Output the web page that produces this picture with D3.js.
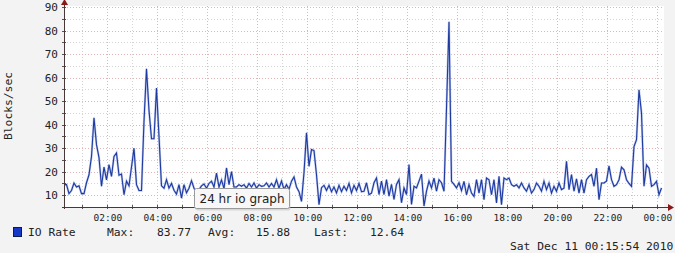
<!DOCTYPE html>
<html>
<head>
<meta charset="utf-8">
<script src="https://cdn.jsdelivr.net/npm/d3@7"></script>
<style>
  body { margin: 0; background: #f3f3f3; }
  svg { display: block; }
  text { font-family: "DejaVu Sans Mono", monospace; fill: #222; }
</style>
</head>
<body>
<svg id="canvas" width="675" height="253"></svg>
<script>
// data (6 minute steps, 24 hours)
const startTime = new Date(2010, 11, 10, 0, 15, 54);
const stepMinutes = 6;
const ioRate = [
  14.5, 14.5, 10.7, 12, 15.2, 13.5, 14, 10.7, 10.7, 15.3,
  18.7, 26.5, 42.9, 31.5, 26, 13.8, 22, 16.5, 23, 18,
  26.5, 28, 18.5, 19, 10.2, 16, 14, 22, 30, 14.5,
  12, 12, 41.4, 63.7, 46, 34, 34, 55.6, 35, 14,
  13, 16.6, 13, 15, 12.1, 10.5, 14.5, 8.8, 14.5, 11,
  13, 16.2, 13, 11, 12.4, 14, 14.8, 13, 15, 16,
  13.5, 19.4, 13.5, 16.5, 12.8, 21.6, 14.5, 20, 13.5, 13.5,
  14.5, 13.8, 14.5, 13, 15, 13.5, 15.2, 13, 14.5, 13.8,
  14, 15.2, 13.5, 15, 13.5, 16.6, 13, 16, 12.5, 14.5,
  12.5, 16, 17.8, 13.5, 11.5, 7.4, 19.6, 36.5, 22.3, 29.4,
  29, 18.7, 6, 13.2, 14.2, 12, 14.2, 11.5, 13.5, 11,
  14.2, 11.5, 13.8, 12, 15, 11, 14.2, 12, 15, 11.5,
  11.7, 15.3, 10.3, 10.9, 15.3, 17.3, 10.3, 16, 10.3, 16.6,
  9.6, 14.6, 8.2, 14.6, 16.6, 6.8, 13.1, 10.3, 23, 6.1,
  13.8, 13.1, 16, 19, 5.4, 11.7, 16, 13.1, 17.3, 11.7,
  16.6, 15.3, 11.7, 47, 83.77, 15.9, 14.6, 13.1, 15.3, 12,
  15.9, 10.2, 14.5, 10.9, 9.5, 16.6, 10.9, 16.6, 8.1, 17.3,
  16.6, 10.2, 16.6, 6.7, 18, 6, 17.3, 16.6, 17.3, 14.5,
  13.8, 14.5, 13.1, 15.2, 13.1, 11.7, 14.5, 10.9, 12.4, 15.2,
  13.8, 11.7, 15.9, 12.4, 15.2, 10.9, 13.8, 11.7, 15.2, 12.4,
  13, 24.4, 12.4, 18.8, 11.7, 17, 10.9, 16.6, 10.9, 16.6,
  18, 18.8, 13.8, 21.5, 8.1, 15.2, 15.2, 16, 22.5, 16.6,
  13.8, 14.5, 16.6, 21.9, 20.8, 16.6, 15, 13.8, 30.7, 33.6,
  54.8, 44.9, 13.8, 22.9, 21.5, 13.8, 14.5, 15.9, 10.2, 13.1
];
const yTicks = [10, 20, 30, 40, 50, 60, 70, 80, 90];
const seriesName = "IO Rate";
const legendLabels = ["Max:", "Avg:", "Last:"];
const legendValues = ["83.77", "15.88", "12.64"];
const yTitle = "Blocks/sec";
const stampText = "Sat Dec 11 00:15:54 2010";
const tipText = "24 hr io graph";

const svg = d3.select('#canvas');
const plotLeft = 64, plotRight = 664, plotTop = 7, plotBottom = 207;

const endTime = d3.timeHour.offset(startTime, 24);
const x = d3.scaleTime().domain([startTime, endTime]).range([plotLeft, plotRight]);
const y = d3.scaleLinear().domain([5, 90]).range([plotBottom, plotTop]);

const points = ioRate.map((v, i) => ({ t: d3.timeMinute.offset(startTime, i * stepMinutes), v }));

// canvas
svg.append('rect')
    .attr('x', plotLeft).attr('y', plotTop - 1)
    .attr('width', plotRight - plotLeft).attr('height', plotBottom - plotTop + 1)
    .attr('fill', '#fff');

// grid, grey minor / pink major, dotted
const hours = x.ticks(d3.timeHour.every(1));
svg.append('g').selectAll('line')
    .data(hours)
    .join('line')
    .attr('x1', d => Math.round(x(d)) + 0.5).attr('x2', d => Math.round(x(d)) + 0.5)
    .attr('y1', plotTop - 1).attr('y2', plotBottom)
    .attr('stroke', d => d.getHours() % 2 === 0 ? '#e2b4b4' : '#d4d4d4')
    .attr('stroke-dasharray', '1,2');

svg.append('g').selectAll('line')
    .data(d3.range(10, 91, 5))
    .join('line')
    .attr('x1', plotLeft).attr('x2', plotRight)
    .attr('y1', d => Math.round(y(d)) + 0.5).attr('y2', d => Math.round(y(d)) + 0.5)
    .attr('stroke', d => d % 10 === 0 ? '#e2b4b4' : '#d4d4d4')
    .attr('stroke-dasharray', '1,2');

// series
const line = d3.line()
    .x(d => x(d.t))
    .y(d => y(d.v));

svg.append('path')
    .datum(points)
    .attr('fill', 'none')
    .attr('stroke', '#8fa3e6')
    .attr('stroke-width', 2.2)
    .attr('opacity', 0.6)
    .attr('d', line);

svg.append('path')
    .datum(points)
    .attr('fill', 'none')
    .attr('stroke', '#1e3a9e')
    .attr('stroke-width', 1.1)
    .attr('d', line);

// axes
const xAxis = d3.axisBottom(x)
    .ticks(d3.timeHour.every(2))
    .tickFormat(d3.timeFormat('%H:%M'))
    .tickSize(0)
    .tickPadding(7);

const gx = svg.append('g')
    .attr('transform', `translate(0,${plotBottom})`)
    .call(xAxis);
gx.select('.domain').remove();
gx.selectAll('text')
    .style('font-family', '"DejaVu Sans Mono", monospace')
    .style('font-size', '9.5px')
    .attr('fill', '#222');

const yAxis = d3.axisLeft(y)
    .tickValues(yTicks)
    .tickSize(0)
    .tickPadding(6);

const gy = svg.append('g')
    .attr('transform', `translate(${plotLeft},0)`)
    .call(yAxis);
gy.select('.domain').remove();
gy.selectAll('text')
    .style('font-family', '"DejaVu Sans Mono", monospace')
    .style('font-size', '11px')
    .attr('fill', '#222');

// small tick marks on the axes
svg.append('g').selectAll('line')
    .data(hours)
    .join('line')
    .attr('x1', d => Math.round(x(d)) + 0.5).attr('x2', d => Math.round(x(d)) + 0.5)
    .attr('y1', plotBottom - 2).attr('y2', plotBottom + 2)
    .attr('stroke', '#555');
svg.append('g').selectAll('line')
    .data(d3.range(10, 91, 5))
    .join('line')
    .attr('x1', plotLeft - 2).attr('x2', plotLeft + 2)
    .attr('y1', d => Math.round(y(d)) + 0.5).attr('y2', d => Math.round(y(d)) + 0.5)
    .attr('stroke', '#555');

// axis lines with rrd style arrows
svg.append('line')
    .attr('x1', plotLeft - 2).attr('x2', 669)
    .attr('y1', plotBottom + 0.5).attr('y2', plotBottom + 0.5)
    .attr('stroke', '#4a3838');
svg.append('line')
    .attr('x1', plotLeft + 0.5).attr('x2', plotLeft + 0.5)
    .attr('y1', plotBottom + 2).attr('y2', 3)
    .attr('stroke', '#4a3838');
svg.append('path')
    .attr('d', `M668,${plotBottom - 3}L674,${plotBottom + 0.5}L668,${plotBottom + 4}Z`)
    .attr('fill', '#8a1a1a');
svg.append('path')
    .attr('d', `M${plotLeft - 3},5L${plotLeft + 0.5},-1L${plotLeft + 4},5Z`)
    .attr('fill', '#8a1a1a');

// y title
svg.append('text')
    .attr('transform', 'translate(12,106) rotate(-90)')
    .attr('text-anchor', 'middle')
    .style('font-size', '11.3px')
    .text(yTitle);

// legend
svg.append('rect')
    .attr('x', 13.5).attr('y', 227.5)
    .attr('width', 8).attr('height', 9)
    .attr('fill', '#1538c8')
    .attr('stroke', '#0a1a55');

const legendRow = svg.append('g').style('font-size', '11.3px');
legendRow.append('text').attr('x', 28).attr('y', 236).text(seriesName);
const labelX = [107, 208, 314];
const valueX = [157, 256, 370];
legendLabels.forEach((l, i) => {
    legendRow.append('text').attr('x', labelX[i]).attr('y', 236).text(l);
    legendRow.append('text').attr('x', valueX[i]).attr('y', 236).text(legendValues[i]);
});

svg.append('text')
    .attr('x', 510).attr('y', 249.5)
    .style('font-size', '11.3px')
    .text(stampText);

// browser tooltip that sits on the picture
const tip = svg.append('g');
tip.append('rect')
    .attr('x', 195.5).attr('y', 190.5)
    .attr('width', 95).attr('height', 20)
    .attr('rx', 2)
    .attr('fill', '#bbb')
    .attr('opacity', 0.5);
tip.append('rect')
    .attr('x', 194.5).attr('y', 188.5)
    .attr('width', 95).attr('height', 20)
    .attr('rx', 2)
    .attr('fill', '#f7f7f7')
    .attr('stroke', '#9a9a9a');
tip.append('text')
    .attr('x', 199.5).attr('y', 202.5)
    .style('font-family', '"DejaVu Sans", sans-serif')
    .style('font-size', '12px')
    .attr('fill', '#575757')
    .text(tipText);
</script>
</body>
</html>
